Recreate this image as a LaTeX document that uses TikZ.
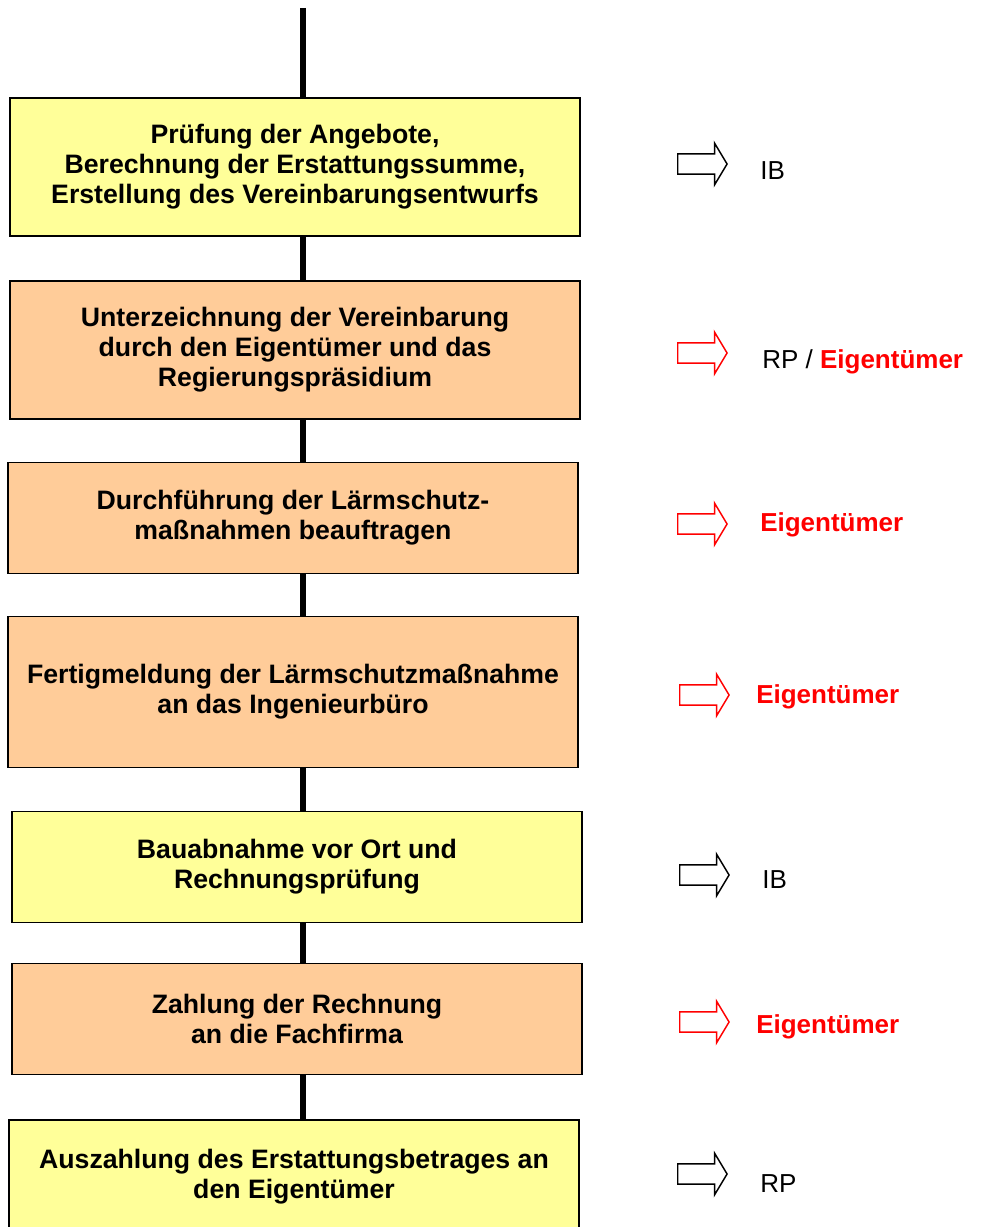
\documentclass[tikz,border=0pt]{standalone}
\usepackage{fontspec}
\setmainfont{Liberation Sans}
\usetikzlibrary{shapes.arrows}
\definecolor{boxyellow}{HTML}{FFFF99}
\definecolor{boxorange}{HTML}{FFCC99}

\begin{document}
\begin{tikzpicture}[x=0.75pt, y=-0.75pt,
  box/.style={rectangle, draw, line width=1.1pt, minimum width=427.5pt,
              font=\fontsize{20pt}{22.5pt}\selectfont\bfseries, align=center},
  ybox/.style={box, fill=boxyellow},
  obox/.style={box, fill=boxorange},
  zeiger/.style={single arrow, draw, line width=1.1pt, fill=white,
                 minimum height=37pt, inner xsep=0pt, inner ysep=7.1pt,
                 single arrow head extend=8pt, single arrow tip angle=118,
                 anchor=tail},
  wer/.style={anchor=base west, inner sep=0pt,
              font=\fontsize{19.5pt}{22.5pt}\selectfont},
  link/.style={line width=3.8pt},
]
  \useasboundingbox (0,0) rectangle (981,1227);
  \clip (0,0) rectangle (981,1227);

  % Ablauf
  \node[ybox, minimum height=103.5pt] (pruef) at (295,167)
    {Prüfung der Angebote,\\Berechnung der Erstattungssumme,\\Erstellung des Vereinbarungsentwurfs};
  \node[obox, minimum height=103.5pt] (unter) at (295,350)
    {Unterzeichnung der Vereinbarung\\durch den Eigentümer und das\\Regierungspräsidium};
  \node[obox, minimum height=83.25pt] (durch) at (293,518)
    {Durchführung der Lärmschutz-\\maßnahmen beauftragen};
  \node[obox, minimum height=113.25pt] (fertig) at (293,692)
    {Fertigmeldung der Lärmschutzmaßnahme\\an das Ingenieurbüro};
  \node[ybox, minimum height=83.25pt] (abnahme) at (297,867)
    {Bauabnahme vor Ort und\\Rechnungsprüfung};
  \node[obox, minimum height=83.25pt] (zahlung) at (297,1019)
    {Zahlung der Rechnung\\an die Fachfirma};
  \node[ybox, minimum height=85.5pt] (auszahl) at (294,1177)
    {Auszahlung des Erstattungsbetrages an\\den Eigentümer};

  % Verbindungen
  \coordinate (start) at (303,8);
  \draw[link] (start) -- (start |- pruef.north);
  \draw[link] (pruef.south -| start) -- (unter.north -| start);
  \draw[link] (unter.south -| start) -- (durch.north -| start);
  \draw[link] (durch.south -| start) -- (fertig.north -| start);
  \draw[link] (fertig.south -| start) -- (abnahme.north -| start);
  \draw[link] (abnahme.south -| start) -- (zahlung.north -| start);
  \draw[link] (zahlung.south -| start) -- (auszahl.north -| start);

  % Zustaendigkeit
  \node[zeiger] (z1) at (677,164) {};
  \node[zeiger, draw=red] (z2) at (677,353) {};
  \node[zeiger, draw=red] (z3) at (677,524) {};
  \node[zeiger, draw=red] (z4) at (679,695) {};
  \node[zeiger] (z5) at (679,875) {};
  \node[zeiger, draw=red] (z6) at (679,1022) {};
  \node[zeiger] (z7) at (677,1174) {};

  \node[wer] (ib1) at (760,180) {IB};
  \node[wer] (rpe) at (762,368) {RP / \textcolor{red}{\bfseries Eigentümer}};
  \node[wer, text=red, font=\fontsize{19.5pt}{22.5pt}\selectfont\bfseries] (eig1) at (760,531) {Eigentümer};
  \node[wer, text=red, font=\fontsize{19.5pt}{22.5pt}\selectfont\bfseries] (eig2) at (756,703) {Eigentümer};
  \node[wer] (ib2) at (762,888) {IB};
  \node[wer, text=red, font=\fontsize{19.5pt}{22.5pt}\selectfont\bfseries] (eig3) at (756,1033) {Eigentümer};
  \node[wer] (rp) at (760,1192) {RP};
\end{tikzpicture}
\end{document}
